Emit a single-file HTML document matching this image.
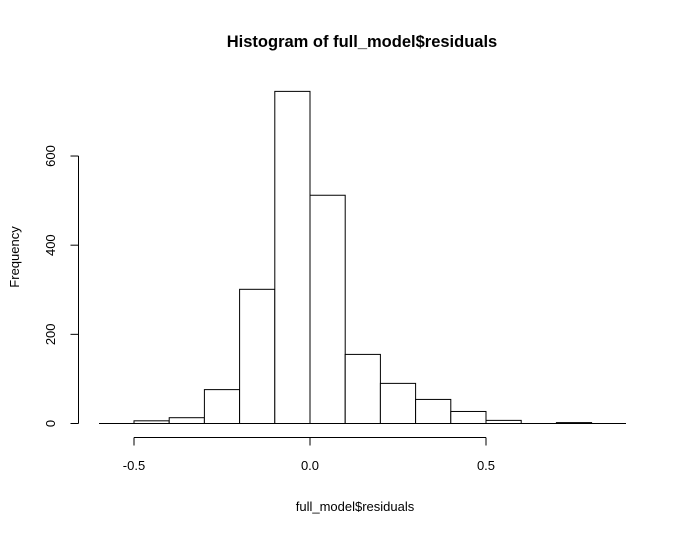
<!DOCTYPE html>
<html><head><meta charset="utf-8"><style>
html,body{margin:0;padding:0;background:#fff;}
svg{display:block;font-family:"Liberation Sans",Arial,sans-serif;}
</style></head><body>
<svg id="chart" width="687" height="535" viewBox="0 0 687 535">
<text x="362" y="47" text-anchor="middle" font-size="16.5" font-weight="bold">Histogram of full_model$residuals</text>
<text x="355" y="511" text-anchor="middle" font-size="13">full_model$residuals</text>
<text transform="translate(19,257) rotate(-90)" text-anchor="middle" font-size="13">Frequency</text>
<g id="bars"></g>
<g id="axes"></g>
</svg>
<script>
const binStarts = [-0.5,-0.4,-0.3,-0.2,-0.1,0.0,0.1,0.2,0.3,0.4,0.5,0.6,0.7];
const counts = [6,13,76,301,745,512,155,90,54,27,7,0,2];
const xTicks = [-0.5,0.0,0.5];
const xTickLabels = ["-0.5","0.0","0.5"];
const yTicks = [0,200,400,600];
const yTickLabels = ["0","200","400","600"];
const binWidth = 0.1;

const NS = "http://www.w3.org/2000/svg";
const xs = v => 310 + v * 352;
const ys = v => 423.5 - v * 0.4458;
function mk(tag, attrs, parent){const e=document.createElementNS(NS,tag);for(const k in attrs)e.setAttribute(k,attrs[k]);parent.appendChild(e);return e;}
const bars = document.getElementById('bars');
const axes = document.getElementById('axes');

// baseline
const base = mk('line',{x1:99,x2:626,y1:ys(0),y2:ys(0),stroke:'#000','stroke-width':1},bars);



binStarts.forEach((b,i)=>{
  if(counts[i]<=0) return;
  const x0=xs(b), x1=xs(b+binWidth), y=ys(counts[i]);
  const r = mk('rect',{x:x0,y:y,width:x1-x0,height:ys(0)-y,fill:'#fff',stroke:'#000','stroke-width':1},bars);
  
  
});

// x axis
const xl = mk('line',{x1:xs(xTicks[0]),x2:xs(xTicks[xTicks.length-1]),y1:437.5,y2:437.5,stroke:'#000'},axes);


xTicks.forEach((t,i)=>{
  const tk = mk('line',{x1:xs(t),x2:xs(t),y1:437.5,y2:445.5,stroke:'#000'},axes);
  
  
  const tx = mk('text',{x:xs(t),y:470,'text-anchor':'middle','font-size':13},axes);
  tx.textContent = xTickLabels[i];
  
  
});

// y axis
const yl = mk('line',{x1:78.5,x2:78.5,y1:ys(yTicks[0]),y2:ys(yTicks[yTicks.length-1]),stroke:'#000'},axes);


yTicks.forEach((t,i)=>{
  const tk = mk('line',{x1:70.5,x2:78.5,y1:ys(t),y2:ys(t),stroke:'#000'},axes);
  
  
  const tx = mk('text',{transform:`translate(55,${ys(t)}) rotate(-90)`,'text-anchor':'middle','font-size':13},axes);
  tx.textContent = yTickLabels[i];
  
  
});
</script>
</body></html>
